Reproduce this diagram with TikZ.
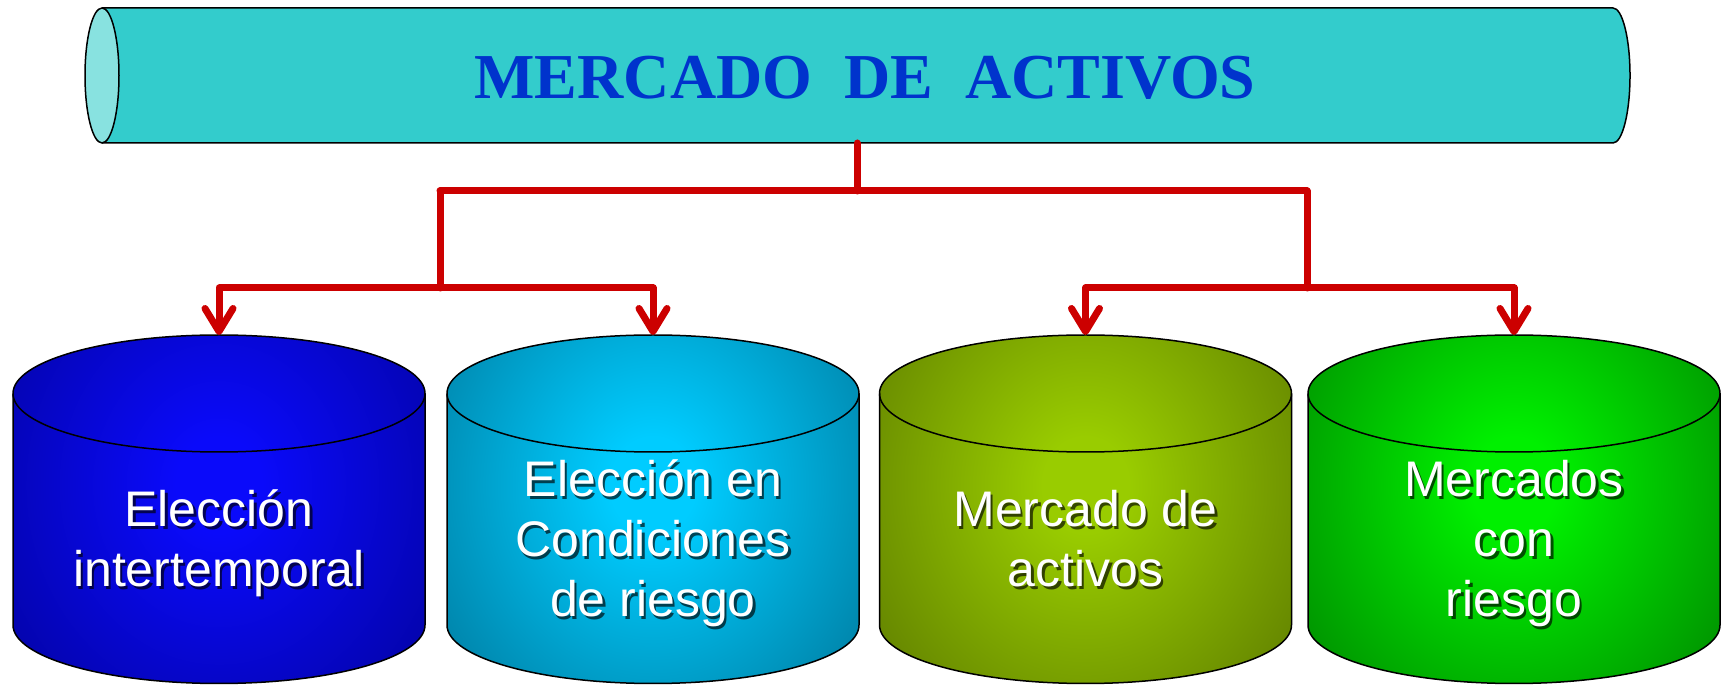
\documentclass[tikz,border=0pt]{standalone}
\usepackage{fontspec}
\usetikzlibrary{arrows.meta}
\newfontfamily\labelfont{Liberation Sans}
\newfontfamily\titlefont{Liberation Serif}
\definecolor{redc}{HTML}{CC0000}
\definecolor{tealbody}{HTML}{33CCCC}
\definecolor{tealcap}{HTML}{88E2E0}
\definecolor{titleblue}{HTML}{0033CC}
\definecolor{inA}{HTML}{0A0AFA}\definecolor{outA}{HTML}{00007E}
\definecolor{inB}{HTML}{00CCFF}\definecolor{outB}{HTML}{005A78}
\definecolor{inC}{HTML}{99CC00}\definecolor{outC}{HTML}{465C00}
\definecolor{inD}{HTML}{00F000}\definecolor{outD}{HTML}{005E00}
\colorlet{cin}{blue}
\colorlet{cout}{black}
\pgfdeclareradialshading[cin,cout]{cylshade}{\pgfpoint{0bp}{0bp}}{color(0bp)=(cin); color(5bp)=(cin); color(44bp)=(cout); color(71bp)=(cout)}
\tikzset{
  cylline/.style={draw=black, line width=1.5pt},
  redline/.style={draw=redc, line width=7pt, line join=round, line cap=round},
  redarrow/.style={redline, -{Straight Barb[length=23pt,width=28pt,round]}},
  lbl/.style={text=white, align=center, anchor=base, inner sep=0pt, font=\labelfont\fontsize{50}{60}\selectfont},
  lblshadow/.style={lbl, text=black, opacity=0.65},
}
\newcommand\mycyl[3]{%
  \begin{scope}
    \colorlet{cin}{in#2}\colorlet{cout}{out#2}
    \path[clip] (#1-206,291.5) -- (#1-206,60) arc[start angle=180,end angle=360,x radius=206,y radius=58.5] -- (#1+206,291.5) arc[start angle=0,end angle=180,x radius=206,y radius=58.5] -- cycle;
    \shade[shading=cylshade] (#1-214,-40) rectangle (#1+214,440);
  \end{scope}
  \draw[cylline] (#1-206,291.5) -- (#1-206,60) arc[start angle=180,end angle=360,x radius=206,y radius=58.5] -- (#1+206,291.5) arc[start angle=0,end angle=180,x radius=206,y radius=58.5] -- cycle;
  \draw[cylline] (#1-206,291.5) arc[start angle=180,end angle=360,x radius=206,y radius=58.5];
  \coordinate (#3) at (#1,350);
}
\begin{document}
\begin{tikzpicture}[x=1pt,y=1pt]
\useasboundingbox (0,0) rectangle (1729,685);
% top cylinder
\fill[tealbody] (102,677) -- (1613,677) arc[start angle=90,end angle=-90,x radius=17,y radius=67.5] -- (102,542) -- cycle;
\draw[cylline] (102,677) -- (1613,677) arc[start angle=90,end angle=-90,x radius=17,y radius=67.5] -- (102,542);
\filldraw[fill=tealcap, cylline] (102,609.5) ellipse[x radius=17, y radius=67.5];
\node[anchor=base, inner sep=0pt, text=titleblue, font=\titlefont\bfseries\fontsize{64}{70}\selectfont] (title) at (865,586) {MERCADO\ \ DE\ \ ACTIVOS};
\coordinate (tb) at (857,542);
% bottom cylinders
\mycyl{219}{A}{c1}
\mycyl{653}{B}{c2}
\mycyl{1085.5}{C}{c3}
\mycyl{1514}{D}{c4}
% connectors
\coordinate (jm) at (857,494);
\coordinate (jL) at (440,494);
\coordinate (jR) at (1307,494);
\coordinate (bL) at (440,397);
\coordinate (bR) at (1307,397);
\draw[redline] (tb) -- (jm);
\draw[redline] (jL) -- (jR);
\draw[redline] (jL) -- (bL);
\draw[redline] (jR) -- (bR);
\draw[redarrow] (bL) -| (c1);
\draw[redarrow] (bL) -| (c2);
\draw[redarrow] (bR) -| (c3);
\draw[redarrow] (bR) -| (c4);
% labels (anchor base = baseline of last line)
\node[lblshadow] (s1) at (221.5,95.5) {Elección\\intertemporal};
\node[lbl] (t1) at (219,98) {Elección\\intertemporal};
\node[lblshadow] (s2) at (655.5,65.5) {Elección en\\Condiciones\\de riesgo};
\node[lbl] (t2) at (653,68) {Elección en\\Condiciones\\de riesgo};
\node[lblshadow] (s3) at (1088,95.5) {Mercado de\\activos};
\node[lbl] (t3) at (1085.5,98) {Mercado de\\activos};
\node[lblshadow] (s4) at (1516.5,65.5) {Mercados\\con\\riesgo};
\node[lbl] (t4) at (1514,68) {Mercados\\con\\riesgo};
\end{tikzpicture}
\end{document}
